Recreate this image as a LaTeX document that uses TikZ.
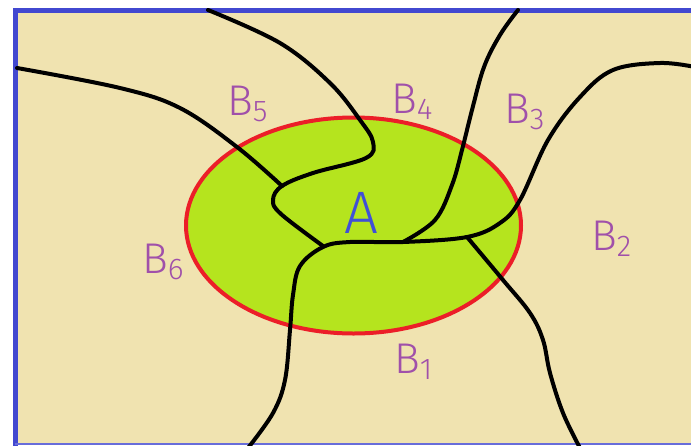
\documentclass[tikz,border=0pt]{standalone}
\usepackage{fontspec}
\setmainfont{Fira Sans}[UprightFont={* Light}]
\definecolor{bg}{RGB}{240,227,176}
\definecolor{frameblue}{RGB}{66,72,208}
\definecolor{lime}{RGB}{181,228,30}
\definecolor{ringred}{RGB}{236,30,40}
\definecolor{lblpurple}{RGB}{160,80,170}
\definecolor{lblblue}{RGB}{64,80,214}
\tikzset{
  border/.style={line width=5pt},
  curve/.style={line width=4pt, line cap=round, line join=round},
  lbl/.style={text=lblpurple, font=\fontsize{43}{43}\selectfont, inner sep=0pt, anchor=base west},
}
\newcommand{\sbs}[1]{\raisebox{-6pt}{\fontsize{30}{30}\selectfont #1}}
\begin{document}
\begin{tikzpicture}[x=1pt,y=-1pt]
\useasboundingbox (0,0) rectangle (691,445);
\clip (0,0) rectangle (691,445);
% background
\fill[bg] (15,10) rectangle (700,444);
\draw[frameblue, border] (15,447) -- (15,10) -- (700,10);
\draw[frameblue!80, line width=1.5pt] (15,444) -- (700,444);
% set A
\fill[lime] (353.5,225.5) ellipse [x radius=167.5, y radius=108];
\draw[ringred, line width=4pt] (353.5,225.5) ellipse [x radius=167.5, y radius=108];
% junctions
\coordinate (j1) at (323,246);
\coordinate (j2) at (282,186);
\coordinate (j3) at (403,242);
\coordinate (j4) at (467,237);
% curves
\draw[curve] plot[smooth, tension=0.6] coordinates {(208,10) (280,43) (330,83) (360,120) (373,142) (366,158) (313,173) (282,186) (273,200) (281,214) (323,246)};
\draw[curve] plot[smooth, tension=0.6] coordinates {(17,68) (120,88) (180,108) (237,147) (282,186)};
\draw[curve] plot[smooth, tension=0.6] coordinates {(248,448) (273,413) (285,380) (290,330) (293,295) (300,266) (323,247) (350,242) (403,242) (467,237) (500,223) (520,200) (548,140) (580,97) (613,70) (660,63) (695,67)};
\draw[curve] plot[smooth, tension=0.6] coordinates {(518,10) (500,35) (484,67) (472,110) (462,150) (452,185) (435,220) (403,242)};
\draw[curve] plot[smooth, tension=0.6] coordinates {(467,237) (503,280) (530,313) (543,340) (550,373) (563,413) (580,448)};
% labels
\node[lbl] (b5) at (227,115) {B\sbs{5}};
\node[lbl] (b4) at (391,113) {B\sbs{4}};
\node[lbl] (b3) at (504,123) {B\sbs{3}};
\node[lbl] (b2) at (591,250) {B\sbs{2}};
\node[lbl] (b6) at (142,273) {B\sbs{6}};
\node[lbl] (b1) at (394,373) {B\sbs{1}};
\node[lbl, text=lblblue, font=\fontsize{60}{60}\selectfont] (a) at (344,233) {A};
\end{tikzpicture}
\end{document}
